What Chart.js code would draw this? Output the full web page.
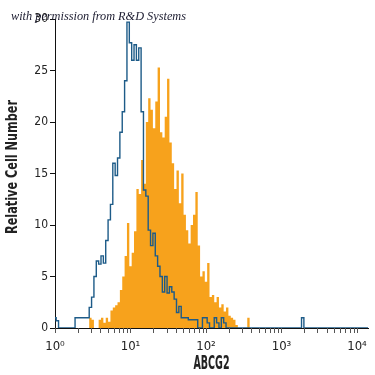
<!DOCTYPE html>
<html>
<head>
<meta charset="utf-8">
<script src="https://cdn.jsdelivr.net/npm/chart.js@4"></script>
<style>
  html, body { margin: 0; padding: 0; background: #fff; }
  #wrap { width: 375px; height: 375px; position: relative; }
</style>
</head>
<body>
<div id="wrap"><canvas id="grafico"></canvas></div>
<script>
// histogram bins: 32 channels per decade, channel i sits at 10^(i/32)
const binsPerDecade = 32;

// isotype control (blue outline)
const isotypeCounts = [
  1, 0.7, 0, 0, 0, 0, 0, 0, 0, 1,
  1, 1, 1, 1, 1, 2, 3, 5, 6.5, 6.2,
  7, 6.3, 8.5, 10.5, 12, 16, 14.8, 16.5, 19, 21,
  24, 29.7, 27.7, 26, 27.5, 26, 27.2, 21, 13.4, 12.8,
  9.5, 8, 9.2, 7, 6, 5, 3.5, 5, 3.4, 4,
  3.5, 2.8, 1.5, 2.1, 1, 1, 1, 0.8, 0.8, 0.8,
  0.8, 0, 0, 1, 1, 0.5, 0, 0, 1, 0.5,
  0, 1, 0.5, 0, 0, 0, 0, 0, 0, 0,
  0, 0, 0, 0, 0, 0, 0, 0, 0, 0,
  0, 0, 0, 0, 0, 0, 0, 0, 0, 0,
  0, 0, 0, 0, 0, 1, 0, 0, 0, 0,
  0, 0, 0, 0, 0, 0, 0, 0, 0, 0,
  0, 0, 0, 0, 0, 0, 0, 0, 0, 0,
  0, 0, 0, 0
];

// ABCG2 stained (orange fill)
const abcg2Counts = [
  0, 0, 0, 0, 0, 0, 0, 0, 0, 0,
  0, 0, 0, 0, 0, 1, 0.8, 0, 0, 0.8,
  1, 0.5, 1, 0.6, 1.7, 2, 2.2, 2.5, 3.7, 5,
  7, 10.2, 6, 7.3, 9.4, 13.5, 13, 16.3, 14, 20,
  22.3, 21.2, 19.4, 22, 25.3, 19, 18.5, 20.5, 24.2, 18,
  16, 13.5, 15.3, 12.1, 15, 11, 9.5, 8.2, 10, 11,
  13.2, 8, 5, 5.5, 4.5, 6.3, 3, 3.2, 2.5, 3,
  2, 2.3, 1.6, 2, 1.2, 1, 0.8, 0.3, 0, 0,
  0, 0, 1, 0
];

// assi
const xDecades = [1, 10, 100, 1000, 10000];
const xDecadeLabels = ['10\u2070', '10\u00b9', '10\u00b2', '10\u00b3', '10\u2074'];
const yTicks = [0, 5, 10, 15, 20, 25, 30];
const xTitle = 'ABCG2';
const yTitle = 'Relative Cell Number';
const note = 'with permission from R&D Systems';

const xMax = 14000;
const condensed = "'DejaVu Sans Condensed', 'Liberation Sans Narrow', sans-serif";

function toPoints(counts){
  return counts.map((c, i) => ({ x: Math.pow(10, i / binsPerDecade), y: c }));
}

// testo schiacciato orizzontalmente (font condensato)
function squeezedText(ctx, txt, font, width, x, y, rot){
  ctx.save();
  ctx.font = font;
  ctx.textAlign = 'center';
  ctx.textBaseline = 'middle';
  const w = ctx.measureText(txt).width;
  ctx.translate(x, y);
  if (rot) ctx.rotate(rot);
  ctx.scale(width / w, 1);
  ctx.fillText(txt, 0, 0);
  ctx.restore();
}

// tacche asse x, titoli, scritta in alto
const extras = {
  id: 'extras',
  afterDraw(chart){
    const ctx = chart.ctx;
    const sx = chart.scales.x;
    const area = chart.chartArea;

    ctx.save();
    ctx.strokeStyle = '#555';
    ctx.lineWidth = 1;
    sx.ticks.forEach(t => {
      const px = Math.round(sx.getPixelForValue(t.value)) + 0.5;
      ctx.beginPath();
      ctx.moveTo(px, area.bottom);
      ctx.lineTo(px, area.bottom + 5);
      ctx.stroke();
    });
    ctx.restore();

    ctx.fillStyle = '#222';
    squeezedText(ctx, xTitle, "bold 19px " + condensed, 36, (area.left + area.right) / 2, 364, 0);
    squeezedText(ctx, yTitle, "bold 15px " + condensed, 134, 13, 167, -Math.PI / 2);

    ctx.save();
    ctx.font = "italic 13px 'Liberation Serif', 'DejaVu Serif', serif";
    ctx.fillStyle = '#1c1c30';
    ctx.textBaseline = 'alphabetic';
    const w = ctx.measureText(note).width;
    ctx.translate(11, 20);
    ctx.scale(175 / w, 1);
    ctx.fillText(note, 0, 0);
    ctx.restore();
  }
};

var grafico = new Chart(document.getElementById('grafico'), {
  type: 'line',
  data: {
    datasets: [{
        label: 'Isotype',
        data: toPoints(isotypeCounts),
        borderColor: '#1d5b88',
        borderWidth: 1.4,
        stepped: 'middle',
        fill: false,
        pointRadius: 0,
        order: 0
      }, {
        label: 'ABCG2',
        data: toPoints(abcg2Counts),
        borderWidth: 0,
        borderColor: 'rgba(0,0,0,0)',
        backgroundColor: '#f7a21c',
        stepped: 'middle',
        fill: 'origin',
        pointRadius: 0,
        order: 1
      }
    ]
  },
  options: {
    responsive: true,
    maintainAspectRatio: false,
    animation: false,
    events: [],
    layout: { padding: { top: 19, right: 7, left: 0, bottom: 0 } },
    plugins: { legend: { display: false }, tooltip: { enabled: false } },
    scales: {
      x: {
        type: 'logarithmic',
        min: 1,
        max: xMax,
        afterBuildTicks: s => {
          const t = [];
          xDecades.forEach(d => {
            t.push({ value: d, major: true });
            if (d < 10000) for (let k = 2; k <= 9; k++) t.push({ value: d * k });
          });
          s.ticks = t;
        },
        afterFit: s => { s.height = 47; },
        ticks: {
          autoSkip: false,
          maxRotation: 0,
          padding: 3,
          color: '#222',
          font: { family: condensed, size: 13 },
          callback: function(v){
            const i = xDecades.indexOf(v);
            return i >= 0 ? xDecadeLabels[i] : '';
          }
        },
        grid: { display: false },
        border: { display: true, color: '#111', width: 1 },
        title: { display: false }
      },
      y: {
        min: 0,
        max: 30,
        afterBuildTicks: s => { s.ticks = yTicks.map(v => ({ value: v })); },
        afterFit: s => { s.width = 55; },
        ticks: {
          padding: 2,
          color: '#222',
          font: { family: condensed, size: 12 }
        },
        grid: { drawOnChartArea: false, drawTicks: true, tickLength: 5, color: '#111' },
        border: { display: true, color: '#111', width: 1 },
        title: { display: false }
      }
    }
  },
  plugins: [extras]
});
</script>
</body>
</html>
